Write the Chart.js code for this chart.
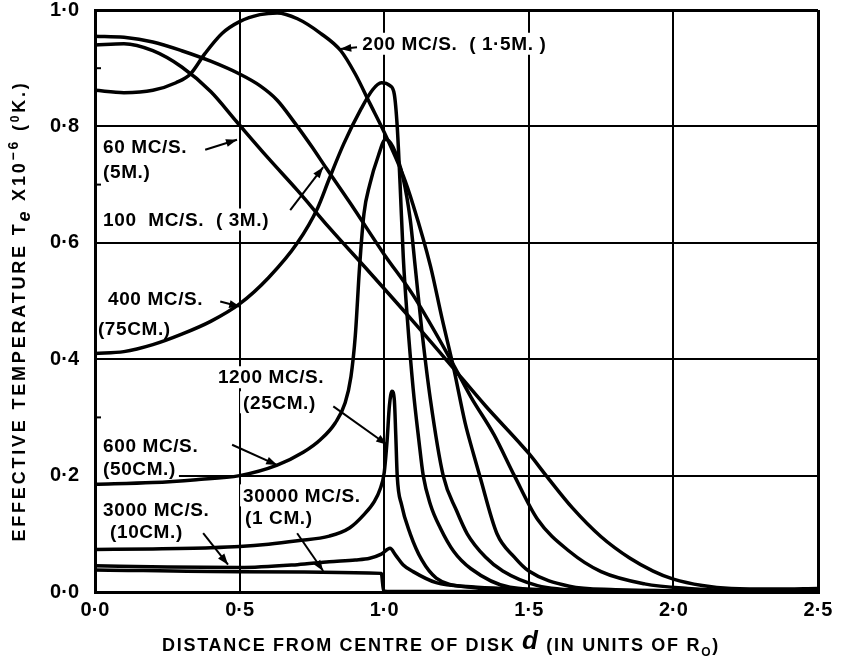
<!DOCTYPE html>
<html>
<head>
<meta charset="utf-8">
<script src="https://cdn.jsdelivr.net/npm/chart.js@4.4.1/dist/chart.umd.min.js"></script>
<style>
  html, body { margin:0; padding:0; background:#fff; }
</style>
</head>
<body>
<canvas id="chart" width="843" height="665"></canvas>
<script>
// axis ticks
const xTicks = [0, 0.5, 1.0, 1.5, 2.0, 2.5];
const yTicks = [0, 0.2, 0.4, 0.6, 0.8, 1.0];
const yMinor = [0.1, 0.3, 0.5, 0.7, 0.9];

// effective temperature (x 10^6 K) vs distance d from disk centre
const mc60x   = [0, 0.1, 0.2, 0.3, 0.4, 0.49, 0.6, 0.7, 0.81, 0.95, 1.1, 1.23, 1.35, 1.5, 1.56, 1.65, 1.75, 1.85, 1.93, 2.0, 2.1, 2.2, 2.35, 2.5];
const mc60y   = [0.94, 0.942, 0.93, 0.902, 0.86, 0.808, 0.745, 0.69, 0.626, 0.549, 0.465, 0.39, 0.32, 0.238, 0.2, 0.145, 0.095, 0.058, 0.036, 0.022, 0.011, 0.006, 0.005, 0.006];

const mc100x  = [0, 0.1, 0.2, 0.3, 0.4, 0.5, 0.57, 0.63, 0.685, 0.75, 0.8, 0.88, 1.0, 1.1, 1.24, 1.3, 1.38, 1.45, 1.53, 1.64, 1.75, 1.9, 2.05, 2.2, 2.5];
const mc100y  = [0.955, 0.953, 0.945, 0.93, 0.912, 0.89, 0.87, 0.845, 0.81, 0.765, 0.728, 0.67, 0.58, 0.51, 0.39, 0.335, 0.27, 0.2, 0.125, 0.07, 0.035, 0.014, 0.006, 0.003, 0.003];

const mc200x  = [0, 0.1, 0.2, 0.28, 0.33, 0.38, 0.44, 0.5, 0.57, 0.63, 0.7, 0.78, 0.85, 0.9, 0.95, 1.0, 1.066, 1.1, 1.16, 1.2, 1.24, 1.28, 1.31, 1.33, 1.39, 1.45, 1.5, 1.64, 1.8, 2.0];
const mc200y  = [0.862, 0.858, 0.862, 0.875, 0.89, 0.925, 0.96, 0.98, 0.992, 0.995, 0.985, 0.96, 0.93, 0.89, 0.84, 0.79, 0.715, 0.665, 0.56, 0.47, 0.385, 0.29, 0.235, 0.2, 0.1, 0.06, 0.036, 0.01, 0.004, 0.002];

const mc400x  = [0, 0.1, 0.2, 0.3, 0.4, 0.5, 0.6, 0.7, 0.77, 0.81, 0.86, 0.92, 0.96, 0.99, 1.02, 1.035, 1.045, 1.055, 1.066, 1.08, 1.1, 1.12, 1.135, 1.16, 1.194, 1.24, 1.3, 1.435, 1.6, 2.0];
const mc400y  = [0.41, 0.413, 0.425, 0.443, 0.465, 0.495, 0.54, 0.6, 0.66, 0.71, 0.77, 0.83, 0.863, 0.875, 0.87, 0.855, 0.8, 0.7, 0.575, 0.47, 0.35, 0.26, 0.2, 0.15, 0.11, 0.07, 0.04, 0.008, 0.003, 0.002];

const mc600x  = [0, 0.2, 0.35, 0.5, 0.63, 0.72, 0.78, 0.83, 0.865, 0.885, 0.9, 0.915, 0.93, 0.95, 0.98, 1.005, 1.03, 1.066, 1.09, 1.107, 1.13, 1.16, 1.204, 1.25, 1.287, 1.35, 1.41, 1.53, 1.7, 2.0];
const mc600y  = [0.185, 0.188, 0.193, 0.2, 0.218, 0.24, 0.262, 0.29, 0.325, 0.37, 0.44, 0.56, 0.65, 0.7, 0.75, 0.778, 0.765, 0.71, 0.64, 0.56, 0.45, 0.33, 0.2, 0.14, 0.1, 0.06, 0.036, 0.011, 0.003, 0.002];

const mc1200x = [0, 0.2, 0.4, 0.5, 0.6, 0.7, 0.81, 0.88, 0.93, 0.965, 0.986, 1.0, 1.01, 1.018, 1.027, 1.035, 1.04, 1.045, 1.06, 1.09, 1.13, 1.18, 1.3, 1.5, 2.0];
const mc1200y = [0.073, 0.074, 0.076, 0.078, 0.082, 0.088, 0.096, 0.11, 0.133, 0.155, 0.177, 0.205, 0.26, 0.32, 0.345, 0.33, 0.27, 0.2, 0.15, 0.1, 0.055, 0.024, 0.008, 0.003, 0.002];

const mc3000x = [0, 0.25, 0.5, 0.7, 0.81, 0.9, 0.95, 0.99, 1.02, 1.04, 1.065, 1.1, 1.18, 1.3, 1.41, 1.7, 2.0, 2.5];
const mc3000y = [0.045, 0.043, 0.042, 0.047, 0.052, 0.055, 0.058, 0.065, 0.075, 0.063, 0.047, 0.035, 0.016, 0.009, 0.006, 0.003, 0.002, 0.002];

const mc30000x = [0, 0.5, 0.99, 0.998, 1.01, 1.5, 2.5];
const mc30000y = [0.038, 0.035, 0.032, 0.002, 0.001, 0.001, 0.001];

const curves = [
  [mc60x, mc60y], [mc100x, mc100y], [mc200x, mc200y], [mc400x, mc400y],
  [mc600x, mc600y], [mc1200x, mc1200y], [mc3000x, mc3000y], [mc30000x, mc30000y]
];

// labels on the plot (data units) and their pointer arrows
const labels = [
  { text: '200 MC/S.  ( 1·5M. )', x: 0.924, y: 0.942 },
  { text: '60 MC/S.', x: 0.028, y: 0.765 },
  { text: '(5M.)', x: 0.028, y: 0.722 },
  { text: '100  MC/S.  ( 3M.)', x: 0.028, y: 0.64 },
  { text: '400 MC/S.', x: 0.045, y: 0.503 },
  { text: '(75CM.)', x: 0.01, y: 0.453 },
  { text: '1200 MC/S.', x: 0.425, y: 0.369 },
  { text: '(25CM.)', x: 0.512, y: 0.326 },
  { text: '600 MC/S.', x: 0.028, y: 0.251 },
  { text: '(50CM.)', x: 0.028, y: 0.212 },
  { text: '3000 MC/S.', x: 0.028, y: 0.141 },
  { text: '(10CM.)', x: 0.052, y: 0.104 },
  { text: '30000 MC/S.', x: 0.512, y: 0.166 },
  { text: '(1 CM.)', x: 0.519, y: 0.128 }
];
const arrows = [
  [0.906, 0.936, 0.848, 0.933],
  [0.381, 0.760, 0.491, 0.777],
  [0.675, 0.656, 0.789, 0.730],
  [0.433, 0.499, 0.502, 0.490],
  [0.824, 0.319, 1.010, 0.253],
  [0.474, 0.253, 0.630, 0.218],
  [0.374, 0.101, 0.460, 0.047],
  [0.699, 0.101, 0.789, 0.036]
];

// axis titles, split in runs so the sub/superscripts can be set like the original
const yTitleRuns = [
  { t: 'EFFECTIVE TEMPERATURE T' },
  { t: 'e', size: 18, dy: 5, italic: true },
  { t: ' X10' },
  { t: '−6', size: 14, dy: -7 },
  { t: ' (' },
  { t: '0', size: 12, dy: -6 },
  { t: 'K.)' }
];
const xTitleRuns = [
  { t: 'DISTANCE FROM CENTRE OF DISK ' },
  { t: 'd', size: 26, italic: true, dy: -2 },
  { t: ' (IN UNITS OF R' },
  { t: 'O', size: 12, dy: 5 },
  { t: ')' }
];

const FONT = '"Liberation Sans", Arial, sans-serif';
const fmt = v => v.toFixed(1).replace('.', '·');

function drawRuns(ctx, runs, cx, cy, base, spacing){
  const fontOf = r => `${r.italic ? 'italic ' : ''}bold ${r.size || base}px ${FONT}`;
  const widthOf = r => { ctx.font = fontOf(r); ctx.letterSpacing = '0px'; return ctx.measureText(r.t).width + spacing * [...r.t].length; };
  const total = runs.reduce((s, r) => s + widthOf(r), 0);
  let px = cx - total/2;
  ctx.textAlign = 'left'; ctx.textBaseline = 'alphabetic';
  runs.forEach(r => {
    const w = widthOf(r);
    ctx.letterSpacing = spacing + 'px';
    ctx.fillText(r.t, px, cy + base*0.36 + (r.dy || 0));
    px += w;
  });
  ctx.letterSpacing = '0px';
}

const notes = {
  id: 'notes',
  beforeDatasetsDraw(chart){
    const { ctx, scales:{ x, y } } = chart;
    ctx.save();
    // small inward ticks on the left axis
    ctx.strokeStyle = '#000'; ctx.lineWidth = 2;
    yMinor.forEach(v=>{
      const py = y.getPixelForValue(v);
      ctx.beginPath(); ctx.moveTo(x.left, py); ctx.lineTo(x.left+6, py); ctx.stroke();
    });
    ctx.font = `bold 19px ${FONT}`;
    ctx.letterSpacing = '0.6px';
    ctx.textBaseline = 'middle';
    labels.forEach(l=>{
      const px = x.getPixelForValue(l.x), py = y.getPixelForValue(l.y);
      const w = ctx.measureText(l.text).width;
      const left = l.x < 0.1 ? x.left + 2 : px - 3;
      ctx.fillStyle = '#fff'; ctx.fillRect(left, py-11, px+w+3-left, 22);
      ctx.fillStyle = '#000'; ctx.fillText(l.text, px, py+1);
    });
    ctx.restore();
  },
  afterDatasetsDraw(chart){
    const { ctx, scales:{ x, y } } = chart;
    ctx.save();
    ctx.strokeStyle = '#000'; ctx.fillStyle = '#000'; ctx.lineWidth = 2;
    arrows.forEach(a=>{
      const x0 = x.getPixelForValue(a[0]), y0 = y.getPixelForValue(a[1]);
      const x1 = x.getPixelForValue(a[2]), y1 = y.getPixelForValue(a[3]);
      ctx.beginPath(); ctx.moveTo(x0, y0); ctx.lineTo(x1, y1); ctx.stroke();
      const ang = Math.atan2(y1-y0, x1-x0);
      ctx.beginPath();
      ctx.moveTo(x1, y1);
      ctx.lineTo(x1-11*Math.cos(ang)+4*Math.sin(ang), y1-11*Math.sin(ang)-4*Math.cos(ang));
      ctx.lineTo(x1-11*Math.cos(ang)-4*Math.sin(ang), y1-11*Math.sin(ang)+4*Math.cos(ang));
      ctx.closePath(); ctx.fill();
    });
    ctx.restore();
  },
  afterDraw(chart){
    const { ctx } = chart;
    ctx.save();
    ctx.fillStyle = '#000';
    drawRuns(ctx, xTitleRuns, 441, 645, 18, 1.7);
    ctx.translate(19, 311);
    ctx.rotate(-Math.PI/2);
    drawRuns(ctx, yTitleRuns, 0, 0, 18, 2.8);
    ctx.restore();
  }
};

const gridWidth = c => (c.index === 0 || c.index === 5) ? 3 : 2;

new Chart(document.getElementById('chart'), {
  type: 'scatter',
  data: {
    datasets: curves.map(([xs, ys]) => ({
      data: xs.map((v, i) => ({ x: v, y: ys[i] })),
      showLine: true, borderColor: '#000', borderWidth: 3.5,
      pointRadius: 0, fill: false, cubicInterpolationMode: 'monotone'
    }))
  },
  options: {
    responsive: false, animation: false, devicePixelRatio: 1,
    layout: { padding: { left: 0, right: 25, top: 10, bottom: 0 } },
    plugins: { legend: { display: false }, tooltip: { enabled: false } },
    scales: {
      x: {
        type: 'linear', min: 0, max: 2.5,
        afterBuildTicks: s => { s.ticks = xTicks.map(v => ({ value: v })); },
        afterFit: s => { s.height = 73; s.paddingLeft = 0; s.paddingRight = 0; },
        ticks: { callback: fmt, color: '#000', padding: 6, maxRotation: 0, font: { family: FONT, size: 20, weight: 'bold' } },
        grid: { color: '#000', lineWidth: gridWidth, drawTicks: false },
        border: { color: '#000', width: 3 }
      },
      y: {
        min: 0, max: 1,
        afterBuildTicks: s => { s.ticks = yTicks.map(v => ({ value: v })); },
        afterFit: s => { s.width = 95; s.paddingTop = 0; s.paddingBottom = 0; },
        ticks: { callback: fmt, color: '#000', padding: 16, font: { family: FONT, size: 20, weight: 'bold' } },
        grid: { color: '#000', lineWidth: gridWidth, drawTicks: false },
        border: { color: '#000', width: 3 }
      }
    }
  },
  plugins: [notes]
});
</script>
</body>
</html>
